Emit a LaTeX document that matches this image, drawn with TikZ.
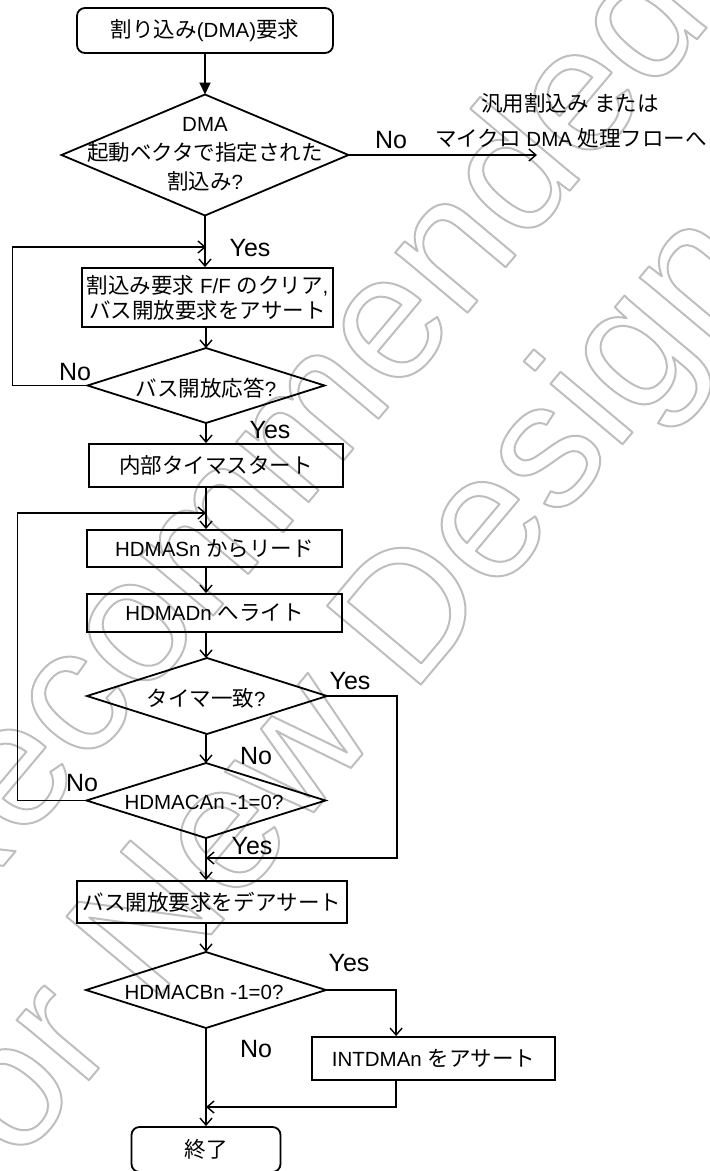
\documentclass[tikz,border=0pt]{standalone}
\usepackage{fontspec}
\setmainfont{Liberation Sans}
\newfontfamily\jpfont[Scale=1.05]{Noto Sans CJK JP}
\newcommand\JP[1]{{\jpfont #1}}
\newcommand\outlinetext[1]{\special{pdf:literal direct 1 Tr 2 w 1 J 1 j}#1\special{pdf:literal direct 0 Tr}}
\usetikzlibrary{shapes.geometric,arrows.meta,calc}
\definecolor{wmgray}{RGB}{190,190,190}
\begin{document}
\begin{tikzpicture}[x=1pt,y=-1pt, line width=1.8pt,
  txt/.style={font=\fontsize{20.5}{26}\selectfont, inner sep=0pt, align=center},
  lbl/.style={font=\fontsize{25}{28}\selectfont, inner sep=0pt},
  proc/.style={draw, rectangle, inner sep=0pt, font=\fontsize{20.5}{25}\selectfont, align=center},
  term/.style={proc, rounded corners=8pt},
  dia/.style={draw, diamond, inner sep=0pt, outer sep=0pt},
  arr/.style={-{Straight Barb[length=7pt,width=12pt,line width=1.4pt]}},
  farr/.style={-{Triangle[length=12pt,width=11pt]}},
  wm/.style={text=wmgray, inner sep=0pt, anchor=base west, rotate=50, font=\fontsize{178}{178}\selectfont}
]
\useasboundingbox (0,0) rectangle (710,1171);

% watermark (outlined text)
\node[wm] (wm1) at (-272,1194) {\outlinetext{Not Recommended}};
\node[wm] (wm2) at (-15,1204) {\outlinetext{for New Design}};

% nodes
\node[term, minimum width=256pt, minimum height=45pt] (start) at (205,30.5) {\JP{割り込み}(DMA)\JP{要求}};
\node[dia, minimum width=287pt, minimum height=121pt] (d1) at (205,155) {};
\node[txt, font=\fontsize{20.5}{29}\selectfont] (d1t) at (205,154) {DMA\\\JP{起動ベクタで指定された}\\\JP{割込み}?};

\node[proc, minimum width=251pt, minimum height=59pt, font=\fontsize{20.5}{25}\selectfont] (clr) at (207.5,297.5) {\JP{割込み要求} F/F \JP{のクリア},\\\JP{バス開放要求をアサート}};
\node[dia, minimum width=237pt, minimum height=75pt] (d2) at (206,385.5) {};
\node[txt] (d2t) at (206,388) {\JP{バス開放応答}?};

\node[proc, minimum width=254pt, minimum height=43pt] (tmr) at (216,465.5) {\JP{内部タイマスタート}};
\node[proc, minimum width=255pt, minimum height=37pt] (rd) at (214.5,548.5) {HDMASn \JP{からリード}};
\node[proc, minimum width=255pt, minimum height=38pt] (wr) at (214.5,613) {HDMADn \JP{へライト}};

\node[dia, minimum width=240pt, minimum height=76pt] (d3) at (207,696) {};
\node[txt] (d3t) at (206,698) {\JP{タイマ一致}?};

\node[dia, minimum width=239pt, minimum height=75pt] (d4) at (206,800.5) {};
\node[txt] (d4t) at (204,802) {HDMACAn -1=0?};

\node[proc, minimum width=270pt, minimum height=42pt] (deas) at (212,902) {\JP{バス開放要求をデアサート}};

\node[dia, minimum width=240pt, minimum height=76pt] (d5) at (206,990) {};
\node[txt] (d5t) at (204,992) {HDMACBn -1=0?};

\node[proc, minimum width=243pt, minimum height=43pt] (intd) at (433.5,1058.5) {INTDMAn \JP{をアサート}};

\node[term, minimum width=149pt, minimum height=45pt] (fin) at (206,1149.5) {\JP{終了}};

% free-end coordinates
\coordinate (j1) at (206,247);
\coordinate (j2) at (206,513);
\coordinate (j3) at (206,858);
\coordinate (j4) at (206,1107);
\coordinate (out) at (537,155);

% main flow
\draw[farr] (start.south -| d1.north) -- (d1.north);
\draw[arr] (d1.south) -- (d1.south |- clr.north);
\draw[arr] (d2.north |- clr.south) -- (d2.north);
\draw[arr] (d2.south) -- (d2.south |- tmr.north);
\draw[arr] (j2 |- tmr.south) -- (j2 |- rd.north);
\draw[arr] (j2 |- rd.south) -- (j2 |- wr.north);
\draw[arr] (j2 |- wr.south) -- (d3.north -| j2);
\draw[arr] (d3.south -| j2) -- (d4.north -| j2);
\draw[arr] (d4.south -| j2) -- (j2 |- deas.north);
\draw[arr] (j2 |- deas.south) -- (d5.north -| j2);
\draw[arr] (d5.south -| j2) -- (j2 |- fin.north);

% branches
\draw[arr] (d1.east) -- (out);
\draw[arr] (d2.west) -- ++(-75,0) |- (j1);
\draw[arr] (d4.west) -- ++(-69,0) |- (j2);
\draw[arr] (d3.east) -- ++(70,0) |- (j3);
\draw[arr] (d5.east) -| ([xshift=85pt]intd.north west);
\draw[arr] ([xshift=85pt]intd.south west) |- (j4);

% labels
\node[lbl] (l1) at (250,248) {Yes};
\node[lbl] (l2) at (391,140) {No};
\node[txt] (o1) at (570,103) {\JP{汎用割込み} \JP{または}};
\node[txt] (o2) at (571,138) {\JP{マイクロ} DMA \JP{処理フローへ}};
\node[lbl] (l3) at (75,372) {No};
\node[lbl] (l4) at (270,430) {Yes};
\node[lbl] (l5) at (350,681) {Yes};
\node[lbl] (l6) at (256,756) {No};
\node[lbl] (l7) at (82,783) {No};
\node[lbl] (l8) at (252,846) {Yes};
\node[lbl] (l9) at (349,963) {Yes};
\node[lbl] (l10) at (256,1049) {No};
\end{tikzpicture}
\end{document}
